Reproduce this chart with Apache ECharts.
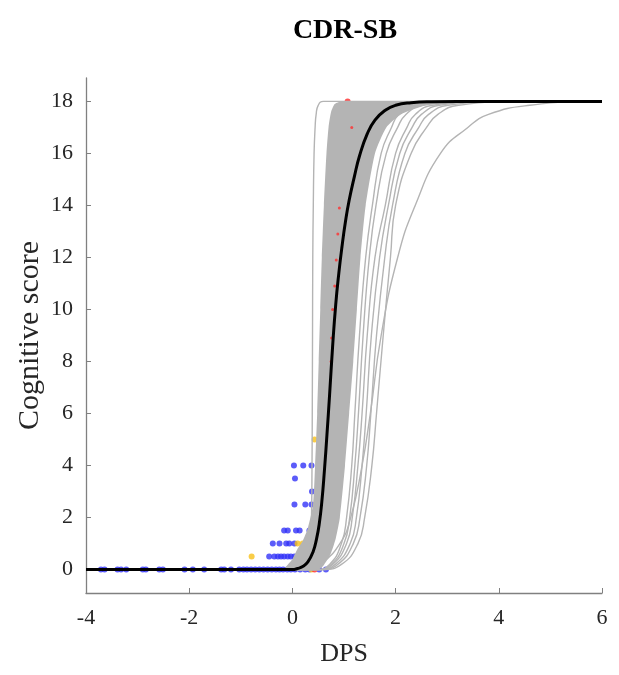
<!DOCTYPE html>
<html>
<head>
<meta charset="utf-8">
<script src="https://cdn.jsdelivr.net/npm/echarts@6/dist/echarts.min.js"></script>
<style>
body { margin: 0; background: #fff; }
#main { width: 619px; height: 675px; }
</style>
</head>
<body>
<div id="main"></div>
<script>
/* ticks */
const xTicks = [-4, -2, 0, 2, 4, 6];
const yTicks = [0, 2, 4, 6, 8, 10, 12, 14, 16, 18];

const yLevels = [0, 0.2, 1, 2, 4, 6, 9, 12, 14, 16, 17, 17.5, 17.85, 18];

/* x of each gray curve at the y levels above */
const curveSteep = [0.15, 0.28, 0.35, 0.37, 0.38, 0.385, 0.39, 0.395, 0.405, 0.42, 0.44, 0.46, 0.5, 0.6];
const curveG = [0.45, 0.72, 0.95, 1.05, 1.15, 1.21, 1.3, 1.42, 1.55, 1.72, 1.92, 2.06, 2.35, 3.2];
const curveA = [0.47, 0.75, 1.0, 1.11, 1.21, 1.28, 1.37, 1.49, 1.62, 1.82, 2.04, 2.2, 2.52, 3.5];
const curveB = [0.5, 0.78, 1.05, 1.16, 1.27, 1.35, 1.45, 1.6, 1.8, 2.0, 2.22, 2.38, 2.72, 3.75];
const curveC = [0.52, 0.83, 1.12, 1.24, 1.35, 1.43, 1.53, 1.69, 1.86, 2.08, 2.32, 2.5, 2.85, 3.95];
const curveD = [0.55, 0.88, 1.18, 1.31, 1.44, 1.52, 1.63, 1.79, 1.94, 2.18, 2.45, 2.64, 3.02, 4.2];
const curveE = [0.58, 0.95, 1.27, 1.4, 1.54, 1.63, 1.76, 1.9, 2.0, 2.3, 2.6, 2.82, 3.22, 4.45];
const curveF = [0.35, 0.55, 0.92, 1.13, 1.35, 1.51, 1.72, 2.04, 2.38, 2.87, 3.4, 3.8, 4.6, 5.9];
const grayCurves = [curveSteep, curveG, curveA, curveB, curveC, curveD, curveE, curveF];

/* edges of the dense gray bundle, bottom to top */
const bandLeft = [[-0.15, 0], [0.0, 0.4], [0.1, 0.8], [0.2, 1.1], [0.3, 1.6], [0.4, 2.5],
  [0.44, 4], [0.48, 6], [0.51, 8], [0.54, 10], [0.57, 12], [0.61, 14], [0.66, 16], [0.7, 17],
  [0.75, 17.6], [0.82, 17.9], [0.95, 18]];
const bandRight = [[0.5, 0], [0.6, 0.15], [0.74, 0.6], [0.84, 1.2], [0.92, 2], [1.02, 4], [1.1, 6],
  [1.18, 8], [1.25, 10], [1.32, 12], [1.42, 14], [1.6, 16], [1.82, 17], [2.1, 17.5], [2.6, 17.85],
  [3.3, 17.97], [4.2, 18]];

/* mean curve */
const meanCurve = [[-4, 0], [0.0, 0], [0.1, 0.04], [0.2, 0.12], [0.3, 0.3], [0.4, 0.68], [0.47, 1.2], [0.52, 1.75],
  [0.57, 2.6], [0.62, 3.8], [0.67, 5.2], [0.72, 6.7], [0.78, 8.6], [0.84, 10.2], [0.9, 11.4], [0.96, 12.4],
  [1.03, 13.4], [1.1, 14.2], [1.2, 15.1], [1.3, 15.9], [1.45, 16.75], [1.6, 17.28], [1.8, 17.66], [2.0, 17.85],
  [2.3, 17.95], [2.7, 17.99], [3.2, 18], [6, 18]];

/* observed points */
const bluePts = [
  [-3.71, 0], [-3.64, 0], [-3.39, 0], [-3.32, 0], [-3.22, 0], [-2.9, 0], [-2.84, 0], [-2.58, 0], [-2.51, 0],
  [-2.09, 0], [-1.93, 0], [-1.71, 0], [-1.38, 0], [-1.32, 0], [-1.19, 0], [-1.03, 0], [-0.95, 0], [-0.88, 0],
  [-0.8, 0], [-0.72, 0], [-0.64, 0], [-0.56, 0], [-0.48, 0], [-0.4, 0], [-0.32, 0], [-0.25, 0], [-0.18, 0],
  [-0.1, 0], [-0.03, 0], [0.05, 0], [0.15, 0], [0.25, 0], [0.33, 0], [0.52, 0], [0.65, 0],
  [-0.45, 0.5], [-0.35, 0.5], [-0.28, 0.5], [-0.22, 0.5], [-0.16, 0.5], [-0.09, 0.5], [-0.03, 0.5],
  [0.04, 0.5], [0.14, 0.5], [0.23, 0.5],
  [-0.38, 1], [-0.25, 1], [-0.12, 1], [-0.06, 1], [0.04, 1], [0.29, 1],
  [-0.16, 1.5], [-0.09, 1.5], [0.07, 1.5], [0.14, 1.5], [0.33, 1.5],
  [0.04, 2.5], [0.25, 2.5], [0.37, 2.5],
  [0.38, 3], [0.05, 3.5],
  [0.03, 4], [0.21, 4], [0.37, 4]
];
const yellowPts = [[-0.79, 0.5], [0.1, 1], [0.2, 1], [0.37, 0], [0.43, 5]];
const redPts = [[0.43, 0], [1.07, 18]];
const redFaint = [[1.15, 17], [0.91, 13.9], [0.88, 12.9], [0.85, 11.9], [0.82, 10.9], [0.78, 10], [0.76, 8.9], [0.75, 8.0]];

const serif = 'Liberation Serif';
var myChart = echarts.init(document.getElementById('main'), null, { renderer: 'canvas' });

let series = [];
// points sit under the curves
series.push({ type: 'scatter', data: bluePts, symbolSize: 6, itemStyle: { color: '#3333f8' }, z: 1, silent: true });
series.push({ type: 'scatter', data: yellowPts, symbolSize: 6, itemStyle: { color: '#f7c01a' }, z: 1, silent: true });
series.push({ type: 'scatter', data: redPts, symbolSize: 6, itemStyle: { color: '#ff2a2a' }, z: 1, silent: true });

// dense bundle
series.push({
  type: 'custom',
  data: [[0, 0]],
  silent: true,
  z: 2,
  renderItem: function (params, api) {
    let pts = bandLeft.concat(bandRight.slice().reverse()).map(p => api.coord(p));
    return { type: 'polygon', shape: { points: pts, smooth: 0.2 }, style: { fill: '#b4b4b4' } };
  }
});

grayCurves.forEach(xs => {
  let d = [[-4, 0]];
  yLevels.forEach((y, i) => d.push([xs[i], y]));
  d.push([6, 18]);
  series.push({
    type: 'line', data: d, showSymbol: false, smooth: 0.5, silent: true,
    lineStyle: { color: '#b4b4b4', width: 1.4 }, z: 3
  });
});

series.push({ type: 'scatter', data: redFaint, symbolSize: 3, itemStyle: { color: '#ff3030', opacity: 0.8 }, z: 4, silent: true });

series.push({
  type: 'line', data: meanCurve, showSymbol: false, smooth: 0.5, silent: true,
  lineStyle: { color: '#000', width: 3 }, z: 5
});

option = {
  backgroundColor: '#fff',
  animation: false,
  title: {
    text: 'CDR-SB', left: 340, top: 12, textAlign: 'center',
    textStyle: { fontFamily: serif, fontWeight: 'bold', fontSize: 28, color: '#000' }
  },
  grid: { left: 86, right: 17, top: 78, bottom: 82 },
  xAxis: {
    type: 'value', min: -4, max: 6, interval: 2,
    name: 'DPS', nameLocation: 'middle', nameGap: 48, nameMoveOverlap: false,
    nameTextStyle: { fontFamily: serif, fontSize: 26, color: '#262626' },
    axisLine: { onZero: false, lineStyle: { color: '#808080', width: 1.3 } },
    axisTick: { inside: true, length: 5, lineStyle: { color: '#808080' } },
    axisLabel: { fontFamily: serif, fontSize: 22, color: '#262626', margin: 14 },
    splitLine: { show: false }
  },
  yAxis: {
    type: 'value', min: -0.9, max: 18.9,
    name: 'Cognitive score', nameLocation: 'middle', nameGap: 41, nameMoveOverlap: false,
    nameTextStyle: { fontFamily: serif, fontSize: 30, color: '#262626' },
    axisLine: { show: true, onZero: false, lineStyle: { color: '#808080', width: 1.3 } },
    axisTick: { show: true, inside: true, length: 5, customValues: yTicks, lineStyle: { color: '#808080' } },
    axisLabel: { fontFamily: serif, fontSize: 22, color: '#262626', margin: 13, customValues: yTicks },
    splitLine: { show: false }
  },
  series: series
};
myChart.setOption(option);
</script>
</body>
</html>
